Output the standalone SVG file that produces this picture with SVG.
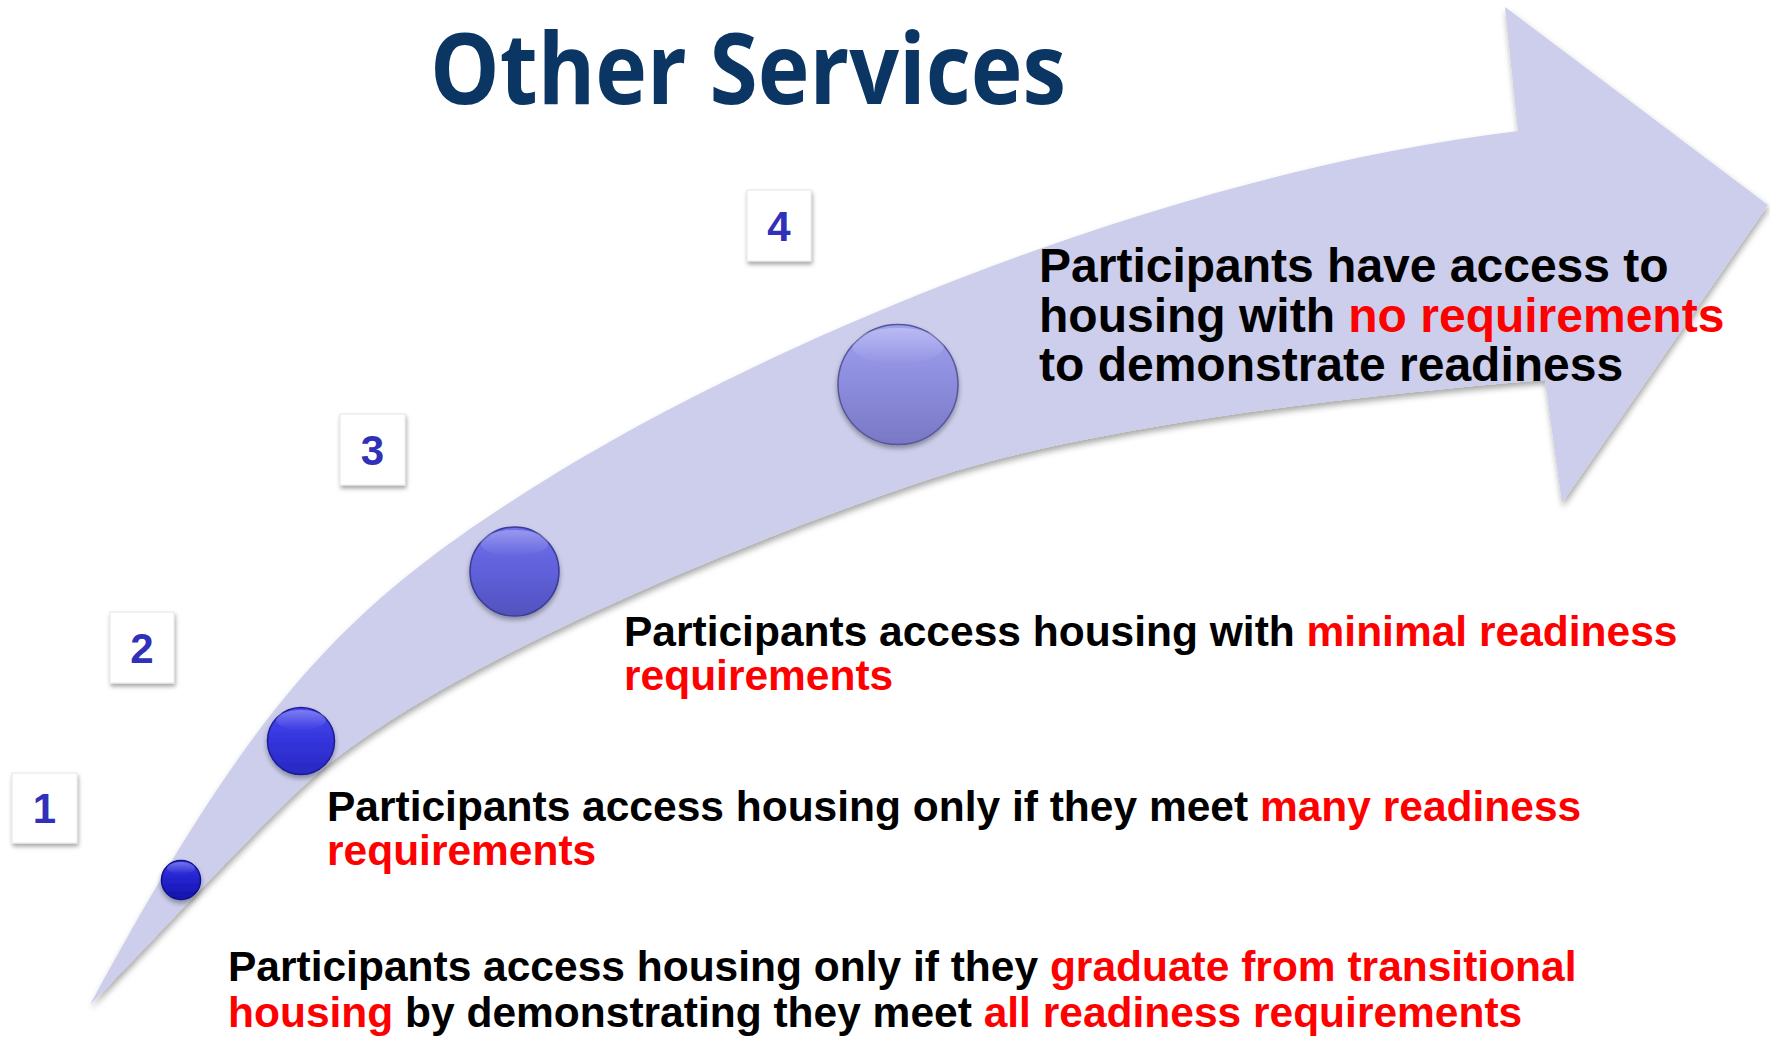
<svg xmlns="http://www.w3.org/2000/svg" width="1770" height="1037" viewBox="0 0 1770 1037">
  <defs>
    <filter id="arrowShadow" x="-5%" y="-5%" width="110%" height="115%">
      <feDropShadow dx="1" dy="4" stdDeviation="3" flood-color="#000" flood-opacity="0.35"/>
    </filter>
    <filter id="boxShadow" x="-20%" y="-20%" width="150%" height="150%">
      <feDropShadow dx="1" dy="3" stdDeviation="2" flood-color="#000" flood-opacity="0.35"/>
    </filter>
    <filter id="ballShadow" x="-20%" y="-20%" width="150%" height="150%">
      <feDropShadow dx="0" dy="3" stdDeviation="2.5" flood-color="#000" flood-opacity="0.35"/>
    </filter>
    <linearGradient id="g1" x1="0" y1="0" x2="0" y2="1">
      <stop offset="0" stop-color="#3c3ce6"/>
      <stop offset="0.5" stop-color="#2222cc"/>
      <stop offset="1" stop-color="#1414aa"/>
    </linearGradient>
    <linearGradient id="g2" x1="0" y1="0" x2="0" y2="1">
      <stop offset="0" stop-color="#4a4af0"/>
      <stop offset="0.5" stop-color="#3434dc"/>
      <stop offset="1" stop-color="#2828c2"/>
    </linearGradient>
    <linearGradient id="g3" x1="0" y1="0" x2="0" y2="1">
      <stop offset="0" stop-color="#7070ea"/>
      <stop offset="0.5" stop-color="#6060da"/>
      <stop offset="1" stop-color="#5252be"/>
    </linearGradient>
    <linearGradient id="g4" x1="0" y1="0" x2="0" y2="1">
      <stop offset="0" stop-color="#a0a0f0"/>
      <stop offset="0.5" stop-color="#8c8cdc"/>
      <stop offset="1" stop-color="#7878c6"/>
    </linearGradient>
    <linearGradient id="gloss" x1="0" y1="0" x2="0" y2="1">
      <stop offset="0" stop-color="#fff" stop-opacity="0.28"/>
      <stop offset="1" stop-color="#fff" stop-opacity="0"/>
    </linearGradient>
  </defs>
  <style>
    .title { font-family: "Open Sans", "Liberation Sans", sans-serif; font-weight: 700; fill: #0b3563; }
    .body { font-family: "Liberation Sans", Arial, sans-serif; font-weight: 700; fill: #000; }
    .big { font-size: 48px; }
    .small { font-size: 42.5px; }
    .red { fill: #ff0000; }
    .box { fill: #ffffff; stroke: #e6e6e6; stroke-width: 1; }
    .num { font-family: "Liberation Sans", Arial, sans-serif; font-weight: 700; font-size: 42px; fill: #3030b8; text-anchor: middle; }
    .ball { stroke-width: 1.5; }
  </style>

  <g id="title">
    <text class="title" x="430" y="104" font-size="98" textLength="636" lengthAdjust="spacingAndGlyphs">Other Services</text>
  </g>

  <g id="connectors">
    <path id="arrow" filter="url(#arrowShadow)" fill="#ccceeb"
      d="M90,1005
         C260,690.5 350,601 550,477
         C770,340.6 1168,173 1518,131
         L1505,7 L1768,205 L1562,503 L1545,380
         C1345,396 1083,428.5 933,478
         C733,544 430,672 310,780
         C250,834 140,955 90,1005 Z"/>
  </g>

  <g id="step1">
    <rect class="box" x="12" y="773" width="65" height="70" filter="url(#boxShadow)"/>
    <text class="num" x="44.5" y="823">1</text>
    <circle class="ball" cx="181" cy="880" r="19.5" fill="url(#g1)" stroke="#10108a" filter="url(#ballShadow)"/>
    <ellipse cx="181" cy="868" rx="14" ry="6" fill="url(#gloss)"/>
    <text class="body small" x="228" y="981">Participants access housing only if they <tspan class="red">graduate from transitional</tspan></text>
    <text class="body small" x="228" y="1027"><tspan class="red">housing</tspan> by demonstrating they meet <tspan class="red">all readiness requirements</tspan></text>
  </g>

  <g id="step2">
    <rect class="box" x="110" y="612" width="64" height="71" filter="url(#boxShadow)"/>
    <text class="num" x="142" y="663">2</text>
    <circle class="ball" cx="301" cy="741" r="33.5" fill="url(#g2)" stroke="#1c1c98" filter="url(#ballShadow)"/>
    <ellipse cx="301" cy="720" rx="25" ry="10" fill="url(#gloss)"/>
    <text class="body small" x="327" y="821">Participants access housing only if they meet <tspan class="red">many readiness</tspan></text>
    <text class="body small red" x="327" y="865">requirements</text>
  </g>

  <g id="step3">
    <rect class="box" x="340" y="414" width="65" height="71" filter="url(#boxShadow)"/>
    <text class="num" x="372.5" y="465">3</text>
    <circle class="ball" cx="514.5" cy="571.5" r="44.5" fill="url(#g3)" stroke="#3c3c98" filter="url(#ballShadow)"/>
    <ellipse cx="514.5" cy="543" rx="34" ry="13" fill="url(#gloss)"/>
    <text class="body small" x="624" y="646">Participants access housing with <tspan class="red">minimal readiness</tspan></text>
    <text class="body small red" x="624" y="690">requirements</text>
  </g>

  <g id="step4">
    <rect class="box" x="747" y="190" width="64" height="71" filter="url(#boxShadow)"/>
    <text class="num" x="779" y="241">4</text>
    <circle class="ball" cx="898" cy="384.5" r="60" fill="url(#g4)" stroke="#55559a" filter="url(#ballShadow)"/>
    <ellipse cx="898" cy="346" rx="46" ry="18" fill="url(#gloss)"/>
    <text class="body big" x="1039" y="282">Participants have access to</text>
    <text class="body big" x="1039" y="332">housing with <tspan class="red">no requirements</tspan></text>
    <text class="body big" x="1039" y="381">to demonstrate readiness</text>
  </g>
</svg>
